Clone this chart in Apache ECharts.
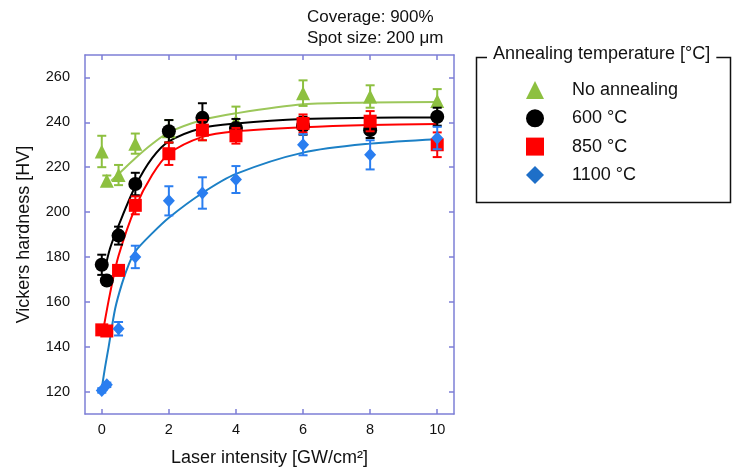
<!DOCTYPE html>
<html>
<head>
<meta charset="utf-8">
<title>Vickers hardness vs laser intensity</title>
<script src="https://cdn.jsdelivr.net/npm/echarts@6/dist/echarts.min.js"></script>
<style>
  html, body { margin: 0; padding: 0; background: #fff; }
  #main { width: 735px; height: 472px; }
</style>
</head>
<body>
<div id="main"></div>
<script>
// measured points (x = laser intensity, GW/cm2)
var xs = [0, 0.15, 0.5, 1, 2, 3, 4, 6, 8, 10];

var noneY   = [227, 214, 216.5, 230.5, 236, 238, 240.5, 253, 251.5, 249.5];
var noneErr = [7, 2.3, 4.5, 4.5, 5, 6, 6.5, 5.7, 5, 5.3];

var c600Y   = [176.5, 169.5, 189.5, 212.5, 236, 242, 237.5, 238.5, 236.5, 242.5];
var c600Err = [4.5, 2, 4, 5, 5, 6.5, 4, 4, 3.5, 4];

var c850Y   = [147.5, 147, 174, 203, 226, 236.5, 234, 239.5, 240.5, 230];
var c850Err = [1.5, 1.5, 2, 4, 5, 4.5, 3.5, 4, 4.5, 5.5];

var c1100Y   = [120.5, 123, 148, 180, 205, 208.5, 214.5, 230, 225.5, 233];
var c1100Err = [1, 1, 3, 5, 6.5, 7, 6, 4.7, 6.5, 5];

// fitted curves
var fitNoneX = [0.28, 0.5, 1, 1.5, 2, 3, 4, 6, 8, 10];
var fitNoneY = [214, 217, 224, 230.3, 235.5, 241, 244, 248, 248.8, 249];
var fit600X = [0.1, 0.25, 0.5, 1, 1.5, 2, 3, 4, 6, 8, 10];
var fit600Y = [175, 184, 194, 211.5, 224, 231.5, 237.5, 239.5, 241.5, 242, 242.2];
var fit850X = [0.05, 0.25, 0.5, 1, 1.5, 2, 3, 4, 6, 8, 10];
var fit850Y = [148, 164, 180.5, 202, 216.5, 226, 233.5, 236, 237.8, 238.8, 239.3];
var fit1100X = [0, 0.1, 0.2, 0.4, 0.6, 0.8, 1, 1.5, 2, 3, 4, 6, 8, 10];
var fit1100Y = [121.5, 131, 139.5, 157, 168, 176.5, 182.5, 190.5, 197.5, 208.5, 217, 226.5, 230.5, 232.5];

var xTicks = [0, 2, 4, 6, 8, 10];
var yTicks = [120, 140, 160, 180, 200, 220, 240, 260];

var axisColor = '#7d7fd6';

function pairs(x, y) {
  return x.map(function (v, i) { return [v, y[i]]; });
}

function fitLine(x, y, color, z) {
  return {
    type: 'line',
    data: pairs(x, y),
    smooth: 0.3,
    showSymbol: false,
    silent: true,
    lineStyle: { color: color, width: 2 },
    z: z
  };
}

function errBars(y, err, color, z) {
  return {
    type: 'custom',
    silent: true,
    data: xs.map(function (x, i) { return [x, y[i] - err[i], y[i] + err[i]]; }),
    encode: { x: 0, y: [1, 2] },
    renderItem: function (params, api) {
      var lo = api.coord([api.value(0), api.value(1)]);
      var hi = api.coord([api.value(0), api.value(2)]);
      var w = 4.5;
      var st = { stroke: color, lineWidth: 2 };
      return {
        type: 'group',
        children: [
          { type: 'line', shape: { x1: lo[0], y1: lo[1], x2: hi[0], y2: hi[1] }, style: st },
          { type: 'line', shape: { x1: lo[0] - w, y1: lo[1], x2: lo[0] + w, y2: lo[1] }, style: st },
          { type: 'line', shape: { x1: hi[0] - w, y1: hi[1], x2: hi[0] + w, y2: hi[1] }, style: st }
        ]
      };
    },
    z: z
  };
}

function points(name, y, symbol, size, color, z) {
  return {
    type: 'scatter',
    name: name,
    data: pairs(xs, y),
    symbol: symbol,
    symbolSize: size,
    itemStyle: { color: color, opacity: 1 },
    z: z
  };
}

var chart = echarts.init(document.getElementById('main'));
var option = {
  animation: false,
  grid: { left: 85, top: 55, width: 369, height: 361 },
  xAxis: [
    {
      type: 'value', min: -0.5, max: 10.5, position: 'bottom',
      name: 'Laser intensity [GW/cm²]', nameLocation: 'middle', nameGap: 35,
      nameTextStyle: { fontSize: 18, color: '#111', fontFamily: 'Liberation Sans' },
      axisLine: { onZero: false, lineStyle: { color: axisColor, width: 1.5 } },
      axisTick: { inside: true, length: 5, customValues: xTicks, lineStyle: { color: axisColor, width: 1.5 } },
      axisLabel: { customValues: xTicks, fontSize: 14.5, color: '#111', margin: 8, fontFamily: 'Liberation Sans' },
      splitLine: { show: false }
    },
    {
      type: 'value', min: -0.5, max: 10.5, position: 'top',
      axisLine: { onZero: false, lineStyle: { color: axisColor, width: 1.5 } },
      axisTick: { inside: true, length: 5, customValues: xTicks, lineStyle: { color: axisColor, width: 1.5 } },
      axisLabel: { show: false },
      splitLine: { show: false }
    }
  ],
  yAxis: [
    {
      type: 'value', min: 110, max: 270, position: 'left',
      name: 'Vickers hardness [HV]', nameLocation: 'middle', nameGap: 52,
      nameTextStyle: { fontSize: 18, color: '#111', fontFamily: 'Liberation Sans' },
      axisLine: { show: true, onZero: false, lineStyle: { color: axisColor, width: 1.5 } },
      axisTick: { show: true, inside: true, length: 5, customValues: yTicks, lineStyle: { color: axisColor, width: 1.5 } },
      axisLabel: { customValues: yTicks, fontSize: 14.5, color: '#111', margin: 15, fontFamily: 'Liberation Sans' },
      splitLine: { show: false }
    },
    {
      type: 'value', min: 110, max: 270, position: 'right',
      axisLine: { show: true, onZero: false, lineStyle: { color: axisColor, width: 1.5 } },
      axisTick: { show: true, inside: true, length: 5, customValues: yTicks, lineStyle: { color: axisColor, width: 1.5 } },
      axisLabel: { show: false },
      splitLine: { show: false }
    }
  ],
  legend: {
    orient: 'vertical',
    left: 521, top: 76,
    itemWidth: 18, itemHeight: 18, itemGap: 10.3,
    selectedMode: false,
    textStyle: { fontSize: 18, color: '#111', fontFamily: 'Liberation Sans', padding: [0, 0, 0, 23] },
    data: [
      { name: 'No annealing' },
      { name: '600 °C' },
      { name: '850 °C' },
      { name: '1100 °C', itemStyle: { color: '#1e6fc8' } }
    ]
  },
  graphic: [
    {
      type: 'rect', left: 474, top: 55, z: 100,
      shape: { width: 254, height: 145 },
      style: { fill: null, stroke: '#111', lineWidth: 1.5 }
    },
    {
      type: 'text', left: 487, top: 45, z: 101,
      style: {
        text: 'Annealing temperature [°C]', fontSize: 18, fill: '#111',
        fontFamily: 'Liberation Sans', backgroundColor: '#fff', padding: [0, 6]
      }
    },
    {
      type: 'text', left: 307, top: 7, z: 101,
      style: {
        text: 'Coverage: 900%\nSpot size: 200 μm', fontSize: 17, lineHeight: 21,
        fill: '#111', fontFamily: 'Liberation Sans'
      }
    }
  ],
  series: [
    fitLine(fitNoneX, fitNoneY, '#9cc75a', 2),
    fitLine(fit600X, fit600Y, '#000000', 2),
    fitLine(fit850X, fit850Y, '#ff0000', 2),
    fitLine(fit1100X, fit1100Y, '#1c80c6', 2),
    errBars(noneY, noneErr, '#8dc040', 3),
    points('No annealing', noneY, 'triangle', 14, '#8dc040', 4),
    errBars(c600Y, c600Err, '#000000', 5),
    points('600 °C', c600Y, 'circle', 14, '#000000', 6),
    errBars(c850Y, c850Err, '#ff0000', 7),
    points('850 °C', c850Y, 'rect', 13, '#ff0000', 8),
    errBars(c1100Y, c1100Err, '#2a7ef0', 9),
    points('1100 °C', c1100Y, 'diamond', [12, 13], '#2a7ef0', 10)
  ]
};
chart.setOption(option);
</script>
</body>
</html>
